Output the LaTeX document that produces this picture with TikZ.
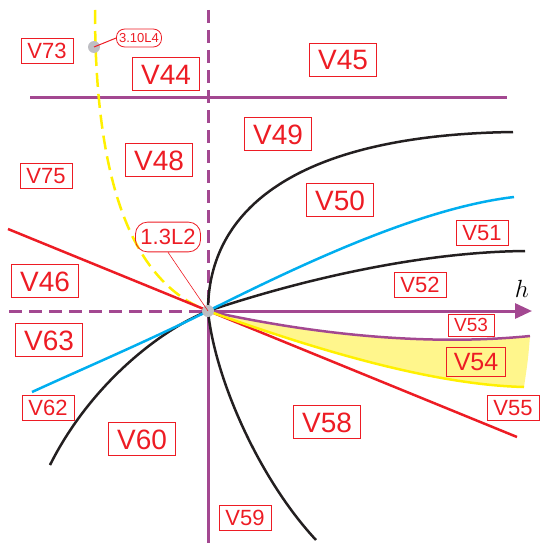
\documentclass[tikz,border=0pt]{standalone}
\usepackage{fontspec}
\setmainfont{Liberation Sans}
\usetikzlibrary{arrows.meta}
\definecolor{labred}{RGB}{237,28,36}
\definecolor{ppl}{RGB}{163,72,145}
\definecolor{cyn}{RGB}{0,174,239}
\definecolor{blk}{RGB}{35,31,32}
\definecolor{ylw}{RGB}{255,240,0}
\definecolor{yfill}{RGB}{255,246,140}
\definecolor{dotgray}{RGB}{190,190,195}
\tikzset{
  big/.style={draw=labred, line width=0.8pt, text=labred, font=\fontsize{28}{28}\selectfont,
    inner xsep=8.5pt, inner ysep=6.5pt, text height=20pt, text depth=0pt},
  small/.style={draw=labred, line width=0.8pt, text=labred, font=\fontsize{22}{22}\selectfont,
    inner xsep=6.5pt, inner ysep=5pt, text height=15.75pt, text depth=0pt},
  pill/.style={draw=labred, line width=0.8pt, text=labred, rounded corners=#1},
  axisline/.style={ppl, line width=3pt},
  dashaxis/.style={ppl, line width=3pt, dash pattern=on 13pt off 7pt},
  curve/.style={line width=2.5pt},
}
\begin{document}
\begin{tikzpicture}[x=1pt,y=-1pt]
\useasboundingbox (0,0) rectangle (539,543);
\coordinate (O) at (208,311);
% yellow region
\fill[yfill] (O) .. controls (330,338) and (440,345) .. (530,336)
  .. controls (528,360) .. (524,387)
  .. controls (440,385) and (330,355) .. (O) -- cycle;
% axes
\coordinate (vtop) at (208,10);
\coordinate (vbot) at (208,543);
\coordinate (hleft) at (9,311);
\coordinate (hright) at (532,311);
\coordinate (tl) at (30,97);
\coordinate (tr) at (507,97);
\draw[dashaxis] (vtop) -- (O);
\draw[axisline] (O) -- (vbot);
\draw[dashaxis] (hleft) -- (O);
\draw[axisline, -{Triangle[length=17pt,width=15pt]}] (O) -- (hright);
\draw[axisline] (tl) -- (tr);
% yellow dashed
\coordinate (ytop) at (95,10);
\draw[ylw, line width=2.5pt, dash pattern=on 14pt off 7pt] (ytop) .. controls (95,200) and (140,285) .. (O);
% red line
\coordinate (rl) at (8,229);
\coordinate (rr) at (517,437);
\draw[labred, curve] (rl) -- (rr);
% black curves
\coordinate (b1) at (513,132);
\draw[blk, curve] (O) .. controls (208,210) and (295,135) .. (b1);
\coordinate (b2) at (525,251);
\coordinate (b3) at (50,465);
\draw[blk, curve] (b3) .. controls (90,385) and (160,330) .. (O) .. controls (300,280) and (420,252) .. (b2);
\coordinate (b4) at (316,540);
\draw[blk, curve] (O) .. controls (215,380) and (260,480) .. (b4);
% blue curves
\coordinate (c1) at (514,197);
\coordinate (c2) at (32,392);
\draw[cyn, curve] (c2) .. controls (80,370) and (150,340) .. (O) .. controls (300,265) and (420,208) .. (c1);
% purple lower curve and yellow lower curve
\coordinate (p1) at (530,336);
\draw[ppl, curve] (O) .. controls (330,338) and (440,345) .. (p1);
\coordinate (y1) at (524,387);
\draw[ylw, curve] (O) .. controls (330,355) and (440,385) .. (y1);
% gray dots
\fill[dotgray] (O) circle (6);
\coordinate (g2) at (94,47);
\fill[dotgray] (g2) circle (6);
% pointer labels
\node[pill=12pt, font=\fontsize{22}{22}\selectfont, inner xsep=5pt, inner ysep=7pt, text height=15.75pt, text depth=0pt] (L2) at (168,237) {1.3L2};
\draw[labred, line width=0.6pt] (L2.south) -- (O);
\node[pill=8pt, font=\fontsize{13}{13}\selectfont, inner xsep=2.6pt, inner ysep=4.3pt, text height=9.3pt, text depth=0pt] (L4) at (139,38) {3.10L4};
\draw[labred, line width=1pt] (g2) -- (L4.west);
% h label
\node[font=\fontsize{26}{26}\selectfont] (hlab) at (522,289) {$h$};
% region labels
\node[small] (v73) at (47,51) {V73};
\node[big] (v44) at (166,74) {V44};
\node[big] (v45) at (343,60) {V45};
\node[big] (v48) at (159,160) {V48};
\node[small] (v75) at (46,176) {V75};
\node[big] (v49) at (278,134) {V49};
\node[big] (v50) at (340,200) {V50};
\node[small] (v51) at (482,233) {V51};
\node[small] (v52) at (420,285) {V52};
\node[small, font=\fontsize{19}{19}\selectfont, inner xsep=6pt, inner ysep=4.2pt, text height=13.6pt] (v53) at (471,325) {V53};
\node[big, font=\fontsize{25}{25}\selectfont, inner xsep=7.5pt, inner ysep=5.5pt, text height=17.9pt] (v54) at (476,362) {V54};
\node[big] (v46) at (45,281) {V46};
\node[big] (v63) at (49,340) {V63};
\node[small] (v62) at (48,408) {V62};
\node[big] (v60) at (142,439) {V60};
\node[big] (v58) at (327,422) {V58};
\node[small] (v59) at (245,518) {V59};
\node[small] (v55) at (513,408) {V55};
\end{tikzpicture}
\end{document}
